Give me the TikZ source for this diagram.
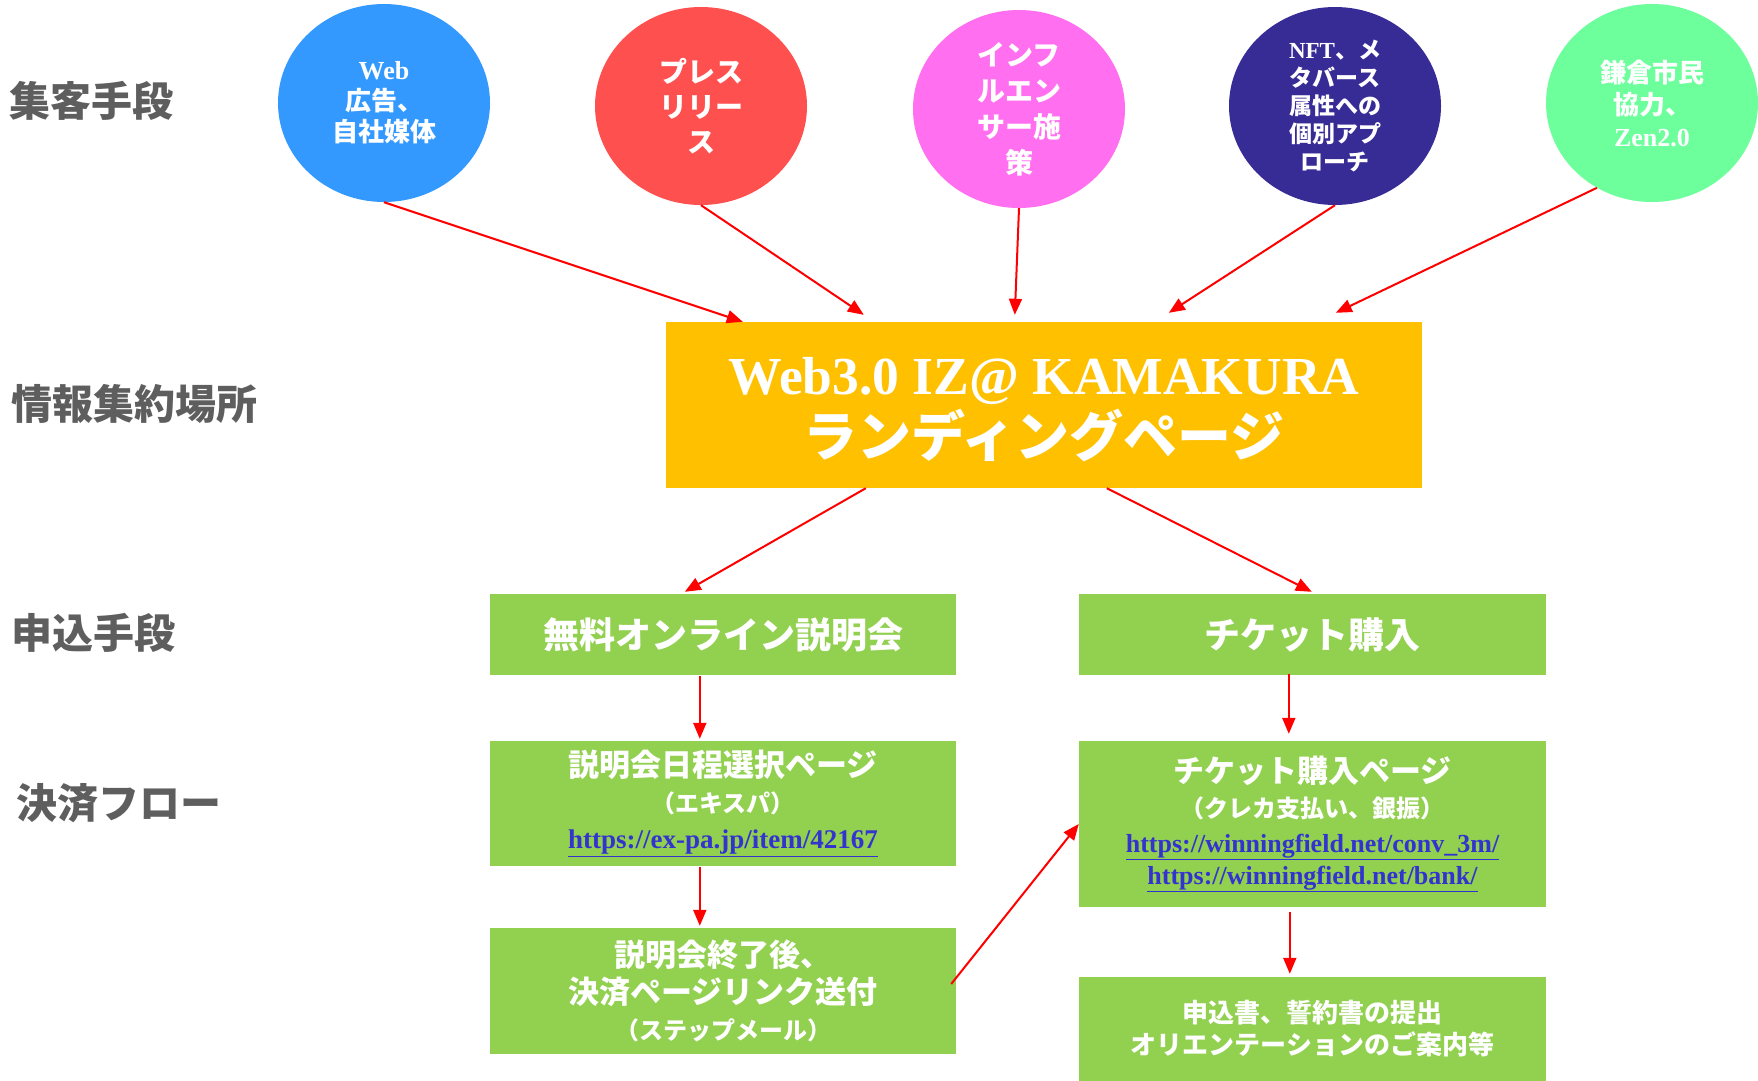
\documentclass[tikz,border=0pt]{standalone}
\usepackage{fontspec}
\setmainfont{Noto Sans CJK JP}
\newfontfamily\tms{Liberation Serif}
\usetikzlibrary{arrows.meta,shapes.geometric}
\definecolor{cBlue}{HTML}{3399FF}
\definecolor{cRed}{HTML}{FF5050}
\definecolor{cPink}{HTML}{FF6FEF}
\definecolor{cNavy}{HTML}{372B96}
\definecolor{cMint}{HTML}{6CFF9C}
\definecolor{cYellow}{HTML}{FFC000}
\definecolor{cGreen}{HTML}{92D050}
\definecolor{cGray}{HTML}{5E5E5E}
\definecolor{cLink}{HTML}{3333D0}
\tikzset{
  oval/.style={ellipse, minimum width=212pt, minimum height=198pt, inner sep=-15pt, text=white, align=center},
  box/.style={rectangle, fill=cGreen, text=white, align=center, inner sep=0pt},
  arr/.style={draw=red, line width=2pt, -{Triangle[length=16pt,width=13pt]}},
  lab/.style={anchor=west, text=cGray, font=\bfseries\fontsize{41}{48}\selectfont},
}
\newcommand{\lnk}[1]{\textcolor{cLink}{\underline{\tms #1}}}
\begin{document}
\begin{tikzpicture}[x=1pt,y=-1pt]
\useasboundingbox (0,0) rectangle (1758,1081);
% left labels
\node[lab] (l1) at (6,101) {集客手段};
\node[lab] (l2) at (8,404) {情報集約場所};
\node[lab] (l3) at (8,633) {申込手段};
\node[lab] (l4) at (13,803) {決済フロー};
% ellipses
\node[oval, fill=cBlue, font=\bfseries\fontsize{26}{31}\selectfont] (e1) at (384,103) {{\tms Web}\\広告、\\自社媒体};
\node[oval, fill=cRed, font=\bfseries\fontsize{28}{35}\selectfont] (e2) at (701,106) {プレス\\リリー\\ス};
\node[oval, fill=cPink, font=\bfseries\fontsize{28}{36}\selectfont] (e3) at (1019,109) {インフ\\ルエン\\サー施\\策};
\node[oval, fill=cNavy, font=\bfseries\fontsize{23}{28}\selectfont] (e4) at (1335,106) {{\tms NFT}、メ\\タバース\\属性への\\個別アプ\\ローチ};
\node[oval, fill=cMint, font=\bfseries\fontsize{26}{32}\selectfont] (e5) at (1652,103) {鎌倉市民\\協力、\\{\tms Zen2.0}};
% landing page
\node[rectangle, fill=cYellow, text=white, align=center, inner sep=0pt, minimum width=756pt, minimum height=166pt,
  font=\bfseries\fontsize{54}{59}\selectfont] (Y) at (1044,405) {\rule{0pt}{46pt}{\tms\fontsize{53.5}{59}\selectfont Web3.0 IZ@ KAMAKURA}\\[3pt]ランディングページ};
% green boxes
\node[box, minimum width=466pt, minimum height=81pt, font=\bfseries\fontsize{36}{40}\selectfont] (A) at (723,634.5) {無料オンライン説明会};
\node[box, minimum width=467pt, minimum height=81pt, font=\bfseries\fontsize{36}{40}\selectfont] (B) at (1312.5,634.5) {チケット購入};
\node[box, minimum width=466pt, minimum height=125pt, font=\bfseries\fontsize{31}{36}\selectfont] (C) at (723,803.5)
  {説明会日程選択ページ\\{\fontsize{24}{36}\selectfont （エキスパ）}\\{\fontsize{27}{36}\selectfont\lnk{https://ex-pa.jp/item/42167}}};
\node[box, minimum width=467pt, minimum height=166pt, font=\bfseries\fontsize{31}{35}\selectfont] (D) at (1312.5,824)
  {チケット購入ページ\\{\fontsize{24}{35}\selectfont （クレカ支払い、銀振）}\\{\fontsize{26}{35}\selectfont\lnk{https://winningfield.net/conv\_3m/}}\\[-3pt]{\fontsize{26}{35}\selectfont\lnk{https://winningfield.net/bank/}}};
\node[box, minimum width=466pt, minimum height=126pt, font=\bfseries\fontsize{31}{36.5}\selectfont] (E) at (723,991)
  {説明会終了後、\\決済ページリンク送付\\{\fontsize{24}{36}\selectfont （ステップメール）}};
\node[box, minimum width=467pt, minimum height=104pt, font=\bfseries\fontsize{26}{32}\selectfont] (F) at (1312.5,1029)
  {申込書、誓約書の提出\\オリエンテーションのご案内等};
% arrows
\draw[arr] (e1.south) -- ([xshift=77pt]Y.north west);
\draw[arr] (e2.south) -- ([xshift=198pt,yshift=7pt]Y.north west);
\draw[arr] (e3.south) -- ([xshift=349pt,yshift=7pt]Y.north west);
\draw[arr] (e4.south) -- ([xshift=503pt,yshift=9pt]Y.north west);
\draw[arr] (e5.237) -- ([xshift=670pt,yshift=9pt]Y.north west);
\draw[arr] ([xshift=200pt]Y.south west) -- ([xshift=195pt,yshift=2pt]A.north west);
\draw[arr] ([xshift=441pt]Y.south west) -- ([xshift=233pt,yshift=2pt]B.north west);
\draw[arr] ([xshift=210pt,yshift=-1pt]A.south west) -- ([xshift=210pt,yshift=2pt]C.north west);
\draw[arr] ([xshift=210pt,yshift=1pt]B.south west) -- ([xshift=210pt,yshift=7pt]D.north west);
\draw[arr] ([xshift=210pt,yshift=-1pt]C.south west) -- ([xshift=210pt,yshift=2pt]E.north west);
\draw[arr] ([xshift=211pt,yshift=-5pt]D.south west) -- ([xshift=211pt,yshift=3pt]F.north west);
\draw[arr] ([xshift=-5pt,yshift=7pt]E.east) -- (D.west);
\end{tikzpicture}
\end{document}
